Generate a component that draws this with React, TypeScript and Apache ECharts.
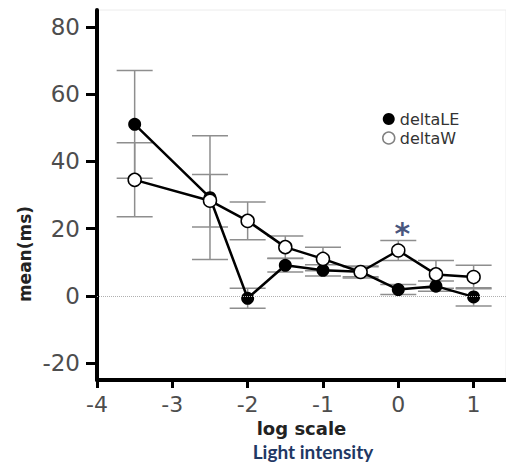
import React, { useEffect, useRef } from "react";
import * as echarts from "echarts";

const xValues = [-3.5, -2.5, -2, -1.5, -1, -0.5, 0, 0.5, 1];
const deltaLE = [51, 29.2, -0.7, 9.1, 7.6, 7.2, 1.9, 2.9, -0.3];
const deltaLEErr = [16, 18.4, 3, 2, 1.7, 1.5, 1.5, 1.5, 2.7];
const deltaW = [34.5, 28.3, 22.3, 14.5, 11, 7.1, 13.5, 6.4, 5.6];
const deltaWErr = [11, 7.8, 5.6, 3.3, 3.5, 1.8, 3, 4.1, 3.5];
const yTicks = [-20, 0, 20, 40, 60, 80];
const xTicks = [-4, -3, -2, -1, 0, 1];
const sigMarks = [[0, 20.5]];

const FONT = "DejaVu Sans";

function errorSeries(vals: number[], errs: number[]) {
  return {
    type: "custom",
    z: 1,
    silent: true,
    encode: { x: 0, y: 1 },
    data: xValues.map((x, i) => [x, vals[i], errs[i]]),
    renderItem: (params: any, api: any) => {
      const x = api.value(0);
      const m = api.value(1);
      const e = api.value(2);
      const top = api.coord([x, m + e]);
      const bot = api.coord([x, m - e]);
      const hw = 18;
      const style = { stroke: "#8e8e8e", lineWidth: 1.5 };
      return {
        type: "group",
        children: [
          { type: "line", shape: { x1: top[0], y1: top[1], x2: bot[0], y2: bot[1] }, style },
          { type: "line", shape: { x1: top[0] - hw, y1: top[1], x2: top[0] + hw, y2: top[1] }, style },
          { type: "line", shape: { x1: bot[0] - hw, y1: bot[1], x2: bot[0] + hw, y2: bot[1] }, style },
        ],
      };
    },
  };
}

export default function App() {
  const ref = useRef<HTMLDivElement>(null);
  useEffect(() => {
    const chart = echarts.init(ref.current!, null, { renderer: "svg" });
    chart.setOption({
      animation: false,
      backgroundColor: "#fff",
      grid: {
        left: 97,
        right: 0,
        top: 10,
        bottom: 84,
        outerBoundsMode: "none",
        show: true,
        borderColor: "#ececec",
        borderWidth: 1,
      },
      legend: {
        orient: "vertical",
        left: 377,
        top: 106,
        itemWidth: 12,
        itemHeight: 12,
        itemGap: 3,
        textStyle: { fontFamily: FONT, fontSize: 16, color: "#333", lineHeight: 16 },
        data: [
          { name: "deltaLE", icon: "circle", itemStyle: { color: "#000", borderWidth: 0 } },
          { name: "deltaW", icon: "circle", itemStyle: { color: "#fff", borderColor: "#808080", borderWidth: 1.5 } },
        ],
      },
      xAxis: {
        type: "value",
        min: -4,
        max: 1.43,
        name: "log scale",
        nameLocation: "middle",
        nameGap: 32,
        nameTextStyle: { fontFamily: FONT, fontWeight: "bold", fontSize: 18, color: "#222", lineHeight: 18 },
        splitLine: { show: false },
        axisLine: { onZero: false, lineStyle: { color: "#000", width: 4 } },
        axisTick: { show: true, length: 8, customValues: xTicks, lineStyle: { color: "#000", width: 3 } },
        axisLabel: { customValues: xTicks, margin: 13, fontFamily: FONT, fontSize: 22, color: "#4d4d4d" },
      },
      yAxis: {
        type: "value",
        min: -25,
        max: 85,
        splitLine: { show: false },
        axisLine: { show: true, onZero: false, lineStyle: { color: "#000", width: 4 } },
        axisTick: { show: true, length: 11, customValues: yTicks, lineStyle: { color: "#000", width: 3 } },
        axisLabel: { customValues: yTicks, margin: 17, fontFamily: FONT, fontSize: 23, color: "#4d4d4d" },
      },
      graphic: [
        {
          type: "text",
          x: 25,
          y: 254,
          rotation: Math.PI / 2,
          style: {
            text: "mean(ms)",
            fontFamily: FONT,
            fontWeight: "bold",
            fontSize: 17,
            fill: "#222",
            textAlign: "center",
            textVerticalAlign: "middle",
          },
        },
        {
          type: "text",
          x: 313,
          y: 451,
          style: {
            text: "Light intensity",
            fontFamily: "Lato",
            fontWeight: "bold",
            fontSize: 19,
            fill: "#1f3864",
            textAlign: "center",
            textVerticalAlign: "middle",
          },
        },
      ],
      series: [
        errorSeries(deltaLE, deltaLEErr),
        errorSeries(deltaW, deltaWErr),
        {
          name: "deltaLE",
          type: "line",
          z: 3,
          data: xValues.map((x, i) => [x, deltaLE[i]]),
          symbol: "circle",
          symbolSize: 13,
          itemStyle: { color: "#000" },
          lineStyle: { color: "#000", width: 2.5 },
          markLine: {
            silent: true,
            symbol: ["none", "none"],
            label: { show: false },
            lineStyle: { type: "dotted", color: "#b0b0b0", width: 1 },
            data: [{ yAxis: 0 }],
          },
        },
        {
          name: "deltaW",
          type: "line",
          z: 4,
          data: xValues.map((x, i) => [x, deltaW[i]]),
          symbol: "circle",
          symbolSize: 13,
          itemStyle: { color: "#fff", borderColor: "#000", borderWidth: 1.5 },
          lineStyle: { color: "#000", width: 2.5 },
        },
        {
          name: "sig",
          type: "scatter",
          z: 5,
          data: sigMarks,
          symbolSize: 1,
          itemStyle: { color: "rgba(0,0,0,0)" },
          label: {
            show: true,
            position: "inside",
            formatter: "*",
            fontFamily: FONT,
            fontWeight: "bold",
            fontSize: 30,
            color: "#17295a",
            offset: [4, 7],
          },
        },
      ],
    });
    return () => chart.dispose();
  }, []);
  return (
    <div
      ref={ref}
      style={{ position: "absolute", left: 0, top: 0, width: 506, height: 464, background: "#fff" }}
    />
  );
}
